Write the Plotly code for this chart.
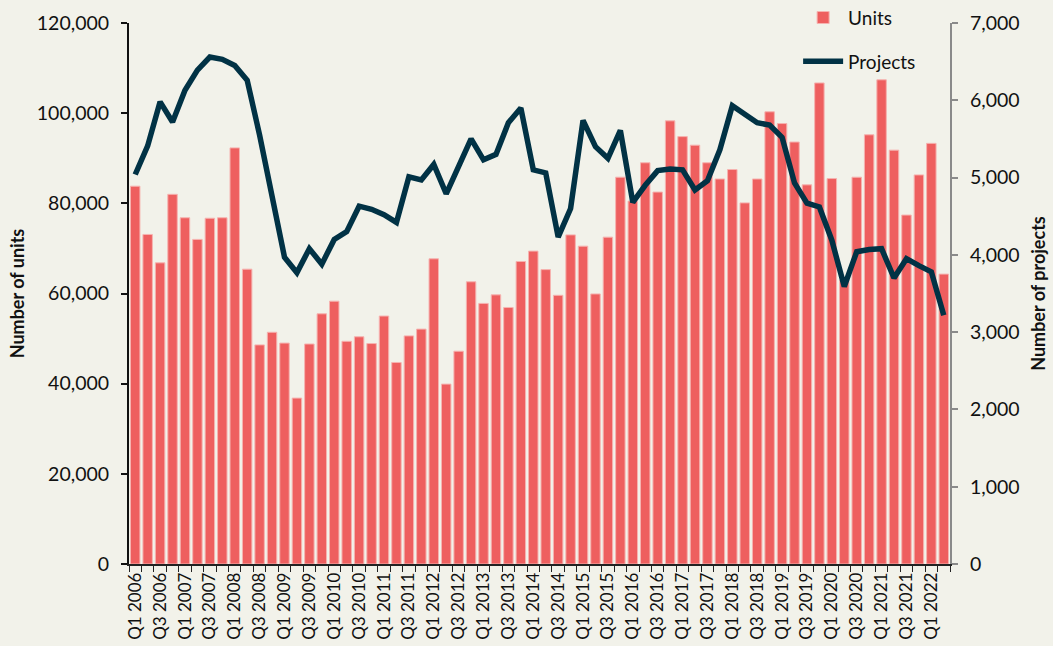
import plotly.graph_objects as go

quarters = [
    "Q1 2006", "Q2 2006", "Q3 2006", "Q4 2006", "Q1 2007", "Q2 2007", "Q3 2007", "Q4 2007",
    "Q1 2008", "Q2 2008", "Q3 2008", "Q4 2008", "Q1 2009", "Q2 2009", "Q3 2009", "Q4 2009",
    "Q1 2010", "Q2 2010", "Q3 2010", "Q4 2010", "Q1 2011", "Q2 2011", "Q3 2011", "Q4 2011",
    "Q1 2012", "Q2 2012", "Q3 2012", "Q4 2012", "Q1 2013", "Q2 2013", "Q3 2013", "Q4 2013",
    "Q1 2014", "Q2 2014", "Q3 2014", "Q4 2014", "Q1 2015", "Q2 2015", "Q3 2015", "Q4 2015",
    "Q1 2016", "Q2 2016", "Q3 2016", "Q4 2016", "Q1 2017", "Q2 2017", "Q3 2017", "Q4 2017",
    "Q1 2018", "Q2 2018", "Q3 2018", "Q4 2018", "Q1 2019", "Q2 2019", "Q3 2019", "Q4 2019",
    "Q1 2020", "Q2 2020", "Q3 2020", "Q4 2020", "Q1 2021", "Q2 2021", "Q3 2021", "Q4 2021",
    "Q1 2022", "Q2 2022",
]

units = [
    83800, 73100, 66800, 82000, 76800, 72000, 76700, 76800,
    92300, 65400, 48600, 51400, 49000, 36800, 48800, 55500,
    58300, 49400, 50400, 48900, 55000, 44700, 50600, 52100,
    67700, 39900, 47200, 62600, 57800, 59700, 56900, 67100,
    69400, 65300, 59600, 73000, 70500, 59900, 72500, 85800,
    80500, 89000, 82500, 98300, 94800, 92900, 89000, 85400,
    87500, 80100, 85400, 100300, 97700, 93600, 84100, 106700,
    85500, 63000, 85800, 95200, 107400, 91800, 77400, 86300,
    93300, 64300,
]

projects = [
    5040, 5410, 5980, 5720, 6130, 6390, 6560, 6530,
    6450, 6260, 5550, 4800, 3970, 3770, 4080, 3880,
    4200, 4300, 4630, 4590, 4520, 4420, 5010, 4970,
    5170, 4790, 5160, 5500, 5230, 5300, 5710, 5900,
    5100, 5060, 4230, 4600, 5740, 5400, 5250, 5610,
    4680, 4900, 5090, 5110, 5100, 4840, 4960, 5360,
    5930, 5810, 5710, 5680, 5520, 4930, 4670, 4620,
    4190, 3590, 4040, 4070, 4080, 3700, 3950, 3860,
    3780, 3220,
]

tick_labels = quarters[::2]

x_idx = list(range(len(quarters)))
tick_pos = x_idx[::2]

BAR = "#EE5F5F"
LINE = "#013245"
BG = "#F2F2EA"
FONT = "Lato"

fig = go.Figure()
fig.add_trace(go.Bar(
    x=x_idx, y=units, name="Units", legendgroup="u",
    marker=dict(color=BAR, line=dict(color="#F6B3B0", width=1)),
    yaxis="y",
))
fig.add_trace(go.Scatter(
    x=x_idx, y=projects, name="Projects", legendgroup="p",
    mode="lines", line=dict(color=LINE, width=5.5),
    yaxis="y2",
))

fig.update_layout(
    width=1053, height=646,
    paper_bgcolor=BG, plot_bgcolor=BG,
    font=dict(family=FONT, size=19, color="#111111"),
    margin=dict(l=129, r=103, t=23, b=82, autoexpand=False),
    bargap=0.24,
    showlegend=True,
    legend=dict(
        x=0.815, y=1.045, xanchor="left", yanchor="top",
        bgcolor="rgba(0,0,0,0)", font=dict(size=19, family=FONT),
        tracegroupgap=16, traceorder="grouped", itemwidth=40,
    ),
    xaxis=dict(
        range=[-0.5, len(quarters) - 0.5],
        tickmode="array", tickvals=tick_pos, ticktext=tick_labels,
        tickangle=-90, ticks="", tickfont=dict(size=17, family=FONT),
        showline=True, linecolor="#222222", linewidth=1.5,
        showgrid=False, zeroline=False, automargin=False,
        minor=dict(ticks="outside", tick0=-0.5, dtick=1, ticklen=6,
                   tickcolor="#222222", showgrid=False),
    ),
    yaxis=dict(
        range=[0, 120000], dtick=20000, tickformat=",",
        showline=True, linecolor="#111111", linewidth=2,
        ticks="outside", ticklen=6, tickcolor="#111111", tickwidth=2,
        ticklabelstandoff=8,
        showgrid=False, zeroline=False, automargin=False,
        title=dict(text="<b>Number of units</b>", standoff=8,
                   font=dict(size=18, family=FONT)),
        tickfont=dict(size=19.5, family=FONT),
    ),
    yaxis2=dict(
        range=[0, 7000], dtick=1000, tickformat=",",
        overlaying="y", side="right",
        showline=True, linecolor="#8A8A8A", linewidth=2,
        ticks="outside", ticklen=6, tickcolor="#8A8A8A", tickwidth=2,
        ticklabelstandoff=8,
        showgrid=False, zeroline=False, automargin=False,
        title=dict(text="<b>Number of projects</b>", standoff=14,
                   font=dict(size=18, family=FONT)),
        tickfont=dict(size=19.5, family=FONT),
    ),
)

fig.write_html(
    "out.html",
    config={"displayModeBar": False},
    post_script="document.body.style.margin='0';document.body.style.overflow='hidden';",
)
